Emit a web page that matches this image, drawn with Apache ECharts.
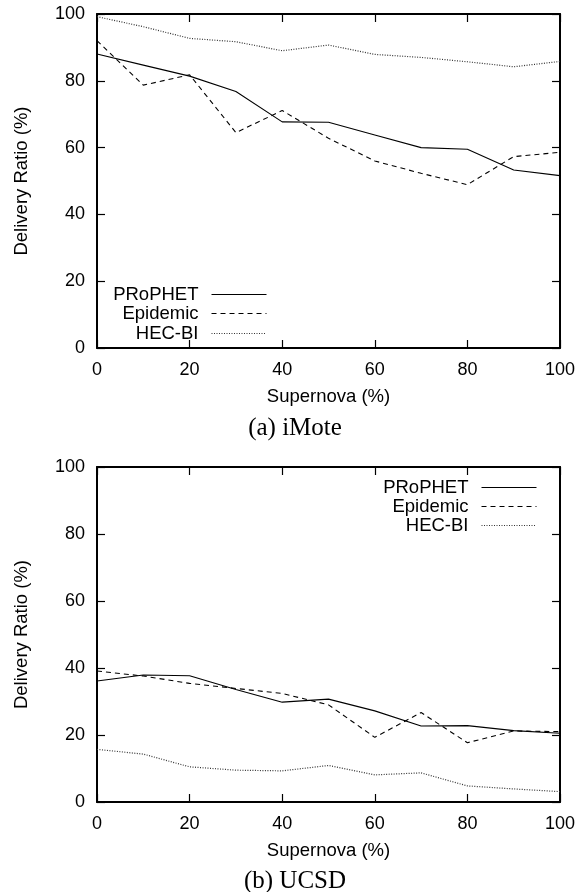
<!DOCTYPE html>
<html>
<head>
<meta charset="utf-8">
<script src="https://cdn.jsdelivr.net/npm/echarts@6/dist/echarts.min.js"></script>
<style>html,body{margin:0;padding:0;background:#fff}#c{width:580px;height:892px}</style>
</head>
<body>
<div id="c"></div>
<script>
var xs = [0, 10, 20, 30, 40, 50, 60, 70, 80, 90, 100];
var seriesNames = ['PRoPHET', 'Epidemic', 'HEC-BI'];
var imoteProphet  = [88.0, 84.7, 81.4, 76.8, 67.7, 67.6, 63.8, 60.0, 59.5, 53.3, 51.6];
var imoteEpidemic = [92.0, 78.7, 81.8, 64.5, 71.1, 62.8, 56.0, 52.3, 48.9, 57.3, 58.6];
var imoteHec      = [99.2, 96.2, 92.7, 91.7, 89.0, 90.7, 87.9, 87.0, 85.7, 84.2, 85.8];
var ucsdProphet   = [36.1, 37.9, 37.7, 33.6, 29.8, 30.7, 27.2, 22.7, 22.8, 21.3, 20.5];
var ucsdEpidemic  = [39.1, 37.6, 35.4, 33.9, 32.4, 29.0, 19.3, 26.7, 17.7, 21.2, 21.0];
var ucsdHec       = [15.7, 14.3, 10.5, 9.5, 9.3, 10.9, 8.1, 8.7, 4.8, 3.9, 3.1];
var captions = ['(a) iMote', '(b) UCSD'];
var xName = 'Supernova (%)';
var yName = 'Delivery Ratio (%)';

var FONT = '"Liberation Sans", Arial, sans-serif';
var grids = [
  {left: 97, top: 14, width: 463, height: 334},
  {left: 97, top: 467, width: 463, height: 335}
];
function pairs(v) { return xs.map(function (x, i) { return [x, v[i]]; }); }

var xAxes = [], yAxes = [];
grids.forEach(function (g, gi) {
  var common = {gridIndex: gi, type: 'value', min: 0, max: 100, interval: 20,
    splitLine: {show: false},
    axisLine: {show: true, onZero: false, lineStyle: {color: '#000', width: 2}},
    axisTick: {show: true, inside: true, length: 8, lineStyle: {color: '#000', width: 1.2}}};
  xAxes.push(Object.assign({}, common, {position: 'bottom',
    axisLabel: {show: true, margin: 13, color: '#000', fontSize: 18, fontFamily: FONT},
    name: xName, nameLocation: 'middle', nameGap: 39,
    nameTextStyle: {color: '#000', fontSize: 18.5, fontFamily: FONT}}));
  xAxes.push(Object.assign({}, common, {position: 'top', axisLabel: {show: false}}));
  yAxes.push(Object.assign({}, common, {position: 'left',
    axisLabel: {show: true, margin: 12, color: '#000', fontSize: 18, fontFamily: FONT},
    name: yName, nameLocation: 'middle', nameGap: 66,
    nameTextStyle: {color: '#000', fontSize: 18.5, fontFamily: FONT}}));
  yAxes.push(Object.assign({}, common, {position: 'right', axisLabel: {show: false}}));
});

var styles = [
  {type: 'solid'},
  {type: [5, 4]},
  {type: [1, 1.5]}
];
var datasets = [[imoteProphet, imoteEpidemic, imoteHec], [ucsdProphet, ucsdEpidemic, ucsdHec]];
var series = [];
datasets.forEach(function (set, gi) {
  set.forEach(function (vals, si) {
    series.push({
      name: seriesNames[si], type: 'line', xAxisIndex: gi * 2, yAxisIndex: gi * 2,
      data: pairs(vals), symbol: 'none', animation: false,
      itemStyle: {color: '#000'},
      lineStyle: {color: si === 2 ? '#333' : '#000', width: si === 2 ? 1.2 : 1.1, type: styles[si].type}
    });
  });
});

var legendCenters = [[293, 312, 332], [486, 505, 524]];
var legendRight = [313, 43];
var legends = [];
legendCenters.forEach(function (cs, gi) {
  cs.forEach(function (cy, si) {
    legends.push({
      data: [seriesNames[si]], right: legendRight[gi], top: cy - 8, align: 'right',
      itemWidth: 55, itemHeight: 16, padding: 0, selectedMode: false,
      itemStyle: {opacity: 0},
      lineStyle: {width: 1, color: si === 2 ? '#333' : '#000'},
      textStyle: {color: '#000', fontSize: 18.5, fontFamily: FONT, padding: [0, 8, 0, 0]}
    });
  });
});

var chart = echarts.init(document.getElementById('c'), null, {renderer: 'canvas'});
chart.setOption({
  backgroundColor: '#fff',
  animation: false,
  grid: grids,
  xAxis: xAxes,
  yAxis: yAxes,
  legend: legends,
  series: series,
  graphic: [
    {type: 'text', x: 295, y: 428, style: {text: captions[0], textAlign: 'center', textVerticalAlign: 'middle', fill: '#000', font: '25px "Liberation Serif", "DejaVu Serif", serif'}},
    {type: 'text', x: 295, y: 881, style: {text: captions[1], textAlign: 'center', textVerticalAlign: 'middle', fill: '#000', font: '25px "Liberation Serif", "DejaVu Serif", serif'}}
  ]
});
</script>
</body>
</html>
